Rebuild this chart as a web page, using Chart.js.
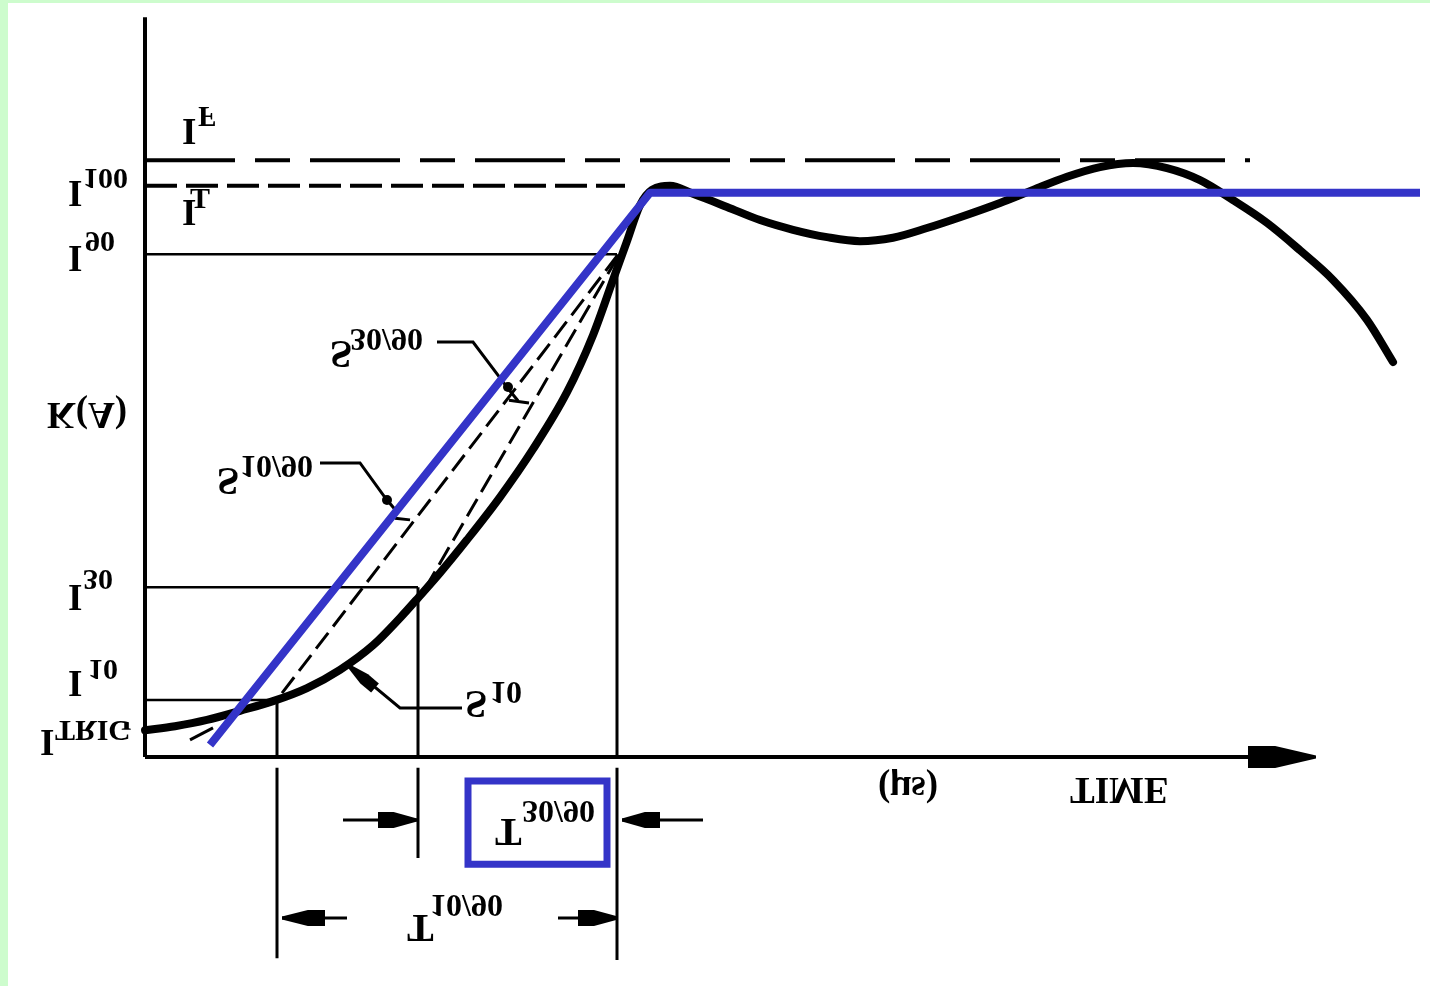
<!DOCTYPE html>
<html>
<head>
<meta charset="utf-8">
<script src="https://cdn.jsdelivr.net/npm/chart.js@4.4.1/dist/chart.umd.min.js"></script>
<style>
  html, body { margin:0; padding:0; background:#cdfccd; overflow:hidden; }
  #frame { position:absolute; left:8px; top:3px; width:1422px; height:983px; background:#fff; }
  #graph { position:absolute; left:0; top:0; }
</style>
</head>
<body>
<div id="frame"></div>
<canvas id="graph" width="1430" height="986"></canvas>
<script>
// courbe du courant : temps (unites du dessin) / courant (% de I100)
var curveT = [0, 3.0, 6.2, 9.5, 12.8, 16.2, 19.5, 22.8, 25.5, 27.4, 29.5, 32.2, 35.5, 38.8,
  42.2, 44.8, 46.8, 48.2, 49.5, 50.7, 52.5, 54.8, 58.2, 61.5, 64.8, 68.2, 71.5, 74.8, 78.2,
  81.5, 85.5, 88.8, 92.2, 95.5, 98.8, 102.2, 105.5, 108.8, 112.2, 115.5, 118.8, 122.2, 124.8];
var curveI = [4.7, 5.4, 6.5, 8.1, 9.8, 12.1, 15.3, 19.6, 24.4, 28.1, 32.3, 38.1, 45.6, 54.0,
  64.0, 74.0, 83.7, 90.5, 96.8, 99.5, 100.2, 98.8, 96.5, 94.2, 92.5, 91.2, 90.5, 91.1, 92.8,
  94.7, 97.2, 99.5, 101.8, 103.5, 104.2, 103.3, 101.2, 97.7, 93.7, 88.9, 83.7, 76.7, 69.3];

// droite bleue (rampe + palier)
var rampT = [6.5, 50.5, 127.5];
var rampI = [2.1, 99.0, 99.0];

// niveaux horizontaux IF, I100, I90, I30, I10
var levelI = [104.7, 100.2, 88.2, 29.8, 10.0];
var levelEnd = [110.5, 48.0, 47.2, 27.3, 13.2];

// reperes verticaux (T90, T30, T10)
var markT = [47.2, 27.3, 13.2];
var markTop = [88.2, 29.8, 10.0];
var markBottom = [-35.6, -17.7, -35.3];

// pentes en pointilles
var s1090T = [13.7, 47.2], s1090I = [11.2, 87.9];
var s3090T = [28.0, 47.2], s3090I = [29.5, 87.5];
var tailT = [4.5, 6.8], tailI = [3.0, 5.1];

// fleches de cotes T30/90 et T10/90
var arrowTail = [19.8, 55.8, 20.2, 41.3];
var arrowTip = [27.2, 47.7, 13.7, 47.3];
var arrowRow = [-11.05, -11.05, -28.25, -28.25];

// pointes de fleches (axe, cotes, S10)
var headTipT = [117.1, 27.2, 47.7, 13.7, 47.3, 20.3];
var headTipI = [0, -11.05, -11.05, -28.25, -28.25, 16.1];
var headBaseT = [110.3, 23.3, 51.5, 18.0, 43.3, 23.0];
var headBaseI = [0, -11.05, -11.05, -28.25, -28.25, 12.1];

// lignes de rappel des etiquettes
var lead3090T = [29.2, 32.8, 36.5, 37.3], lead3090I = [72.8, 72.8, 64.2, 62.5];
var bar3090T = [36.4, 38.4], bar3090I = [62.6, 62.1];
var lead1090T = [17.5, 21.5, 24.1, 25.3], lead1090I = [51.6, 51.6, 45.3, 42.8];
var bar1090T = [25.0, 26.5], bar1090I = [41.9, 41.6];
var lead10T = [31.7, 25.5, 20.7], lead10I = [8.6, 8.6, 15.6];
var dotT = [36.3, 24.2], dotI = [64.9, 45.1];

// cadre bleu autour de T30/90
var boxT = [32.3, 46.2, 46.2, 32.3, 32.3];
var boxI = [-4.2, -4.2, -18.8, -18.8, -4.2];

// textes : [texte, t, i, police, retourne]
var labels = [
  ['I', 3.7, 109.7, 'b', true], ['F', 5.3, 112.3, 's', true],
  ['I', 3.7, 95.5, 'b', true], ['T', 4.5, 97.9, 's', false],
  ['I', -7.7, 98.8, 'b', true], ['100', -6.2, 101.5, 's', true],
  ['I', -7.7, 87.4, 'b', true], ['90', -6.0, 90.4, 's', true],
  ['I', -7.7, 28.0, 'b', true], ['30', -6.2, 31.1, 's', true],
  ['I', -7.7, 12.9, 'b', true], ['10', -5.7, 15.3, 's', true],
  ['I', -10.5, 2.6, 'b', true], ['TRIG', -9.0, 4.6, 's', true],
  ['K(A)', -9.8, 60.5, 'b', true],
  ['S', 18.5, 70.7, 'L', true], ['30/90', 20.5, 73.3, 'S', true],
  ['S', 7.2, 48.4, 'L', true], ['10/90', 9.5, 50.9, 'S', true],
  ['S', 32.0, 9.3, 'L', true], ['10', 34.5, 11.4, 'S', true],
  ['T', 35.0, -13.2, 'L', true], ['30/90', 37.7, -9.6, 'S', true],
  ['T', 26.2, -30.0, 'L', true], ['10/90', 28.5, -26.0, 'S', true],
  ['(\u03bcs)', 73.3, -5.1, 'b', true],
  ['TIME', 92.5, -5.8, 'b', true]
];

var fonts = {
  b: 'bold 37px "Liberation Serif"',
  s: 'bold 30px "Liberation Serif"',
  L: 'bold 40px "Liberation Serif"',
  S: 'bold 32px "Liberation Serif"'
};

var blue = '#3434c8';

function pts(ts, is) {
  return ts.map(function (t, k) { return { x: t, y: is[k] }; });
}
function line(data, opts) {
  return Object.assign({
    data: data, showLine: true, pointRadius: 0, borderColor: '#000',
    borderWidth: 3, tension: 0, fill: false
  }, opts || {});
}

var datasets = [];
datasets.push(line(pts(rampT, rampI), { borderColor: blue, borderWidth: 8, borderJoinStyle: 'round' }));
datasets.push(line(pts(boxT, boxI), { borderColor: blue, borderWidth: 7, borderJoinStyle: 'miter', borderCapStyle: 'square' }));
datasets.push(line(pts(curveT, curveI), { borderWidth: 8, cubicInterpolationMode: 'monotone', borderCapStyle: 'round' }));
datasets.push(line(pts(s1090T, s1090I), { borderDash: [20, 8] }));
datasets.push(line(pts(s3090T, s3090I), { borderDash: [20, 8] }));
datasets.push(line(pts(tailT, tailI), { borderWidth: 3 }));

// axes du dessin
datasets.push(line(pts([0, 0], [0, 129.8]), { borderWidth: 4 }));
datasets.push(line(pts([0, 110.5], [0, 0]), { borderWidth: 4 }));

levelI.forEach(function (v, k) {
  var o = { borderWidth: 2.5 };
  if (k === 0) o = { borderWidth: 4, borderDash: [90, 20, 35, 20] };
  if (k === 1) o = { borderWidth: 4, borderDash: [32, 9] };
  datasets.push(line(pts([0, levelEnd[k]], [v, v]), o));
});

markT.forEach(function (t, k) {
  datasets.push(line([{ x: t, y: markTop[k] }, { x: t, y: 0 }, { x: t, y: null },
    { x: t, y: -1.9 }, { x: t, y: markBottom[k] }], { borderWidth: 3 }));
});

arrowTail.forEach(function (t, k) {
  datasets.push(line(pts([t, arrowTip[k]], [arrowRow[k], arrowRow[k]]), { borderWidth: 3 }));
});

datasets.push(line(pts(lead3090T, lead3090I), { borderWidth: 3 }));
datasets.push(line(pts(bar3090T, bar3090I), { borderWidth: 3 }));
datasets.push(line(pts(lead1090T, lead1090I), { borderWidth: 3 }));
datasets.push(line(pts(bar1090T, bar1090I), { borderWidth: 3 }));
datasets.push(line(pts(lead10T, lead10I), { borderWidth: 3 }));
datasets.push({ data: pts(dotT, dotI), showLine: false, pointRadius: 5, pointBackgroundColor: '#000', pointBorderWidth: 0 });

var headW = [11, 8, 8, 8, 8, 6];

var drawingPlugin = {
  id: 'drawing',
  afterDatasetsDraw: function (chart) {
    var ctx = chart.ctx, xs = chart.scales.x, ys = chart.scales.y;
    ctx.save();
    ctx.fillStyle = '#000';
    headTipT.forEach(function (t, i) {
      var tx = xs.getPixelForValue(t), ty = ys.getPixelForValue(headTipI[i]);
      var bx = xs.getPixelForValue(headBaseT[i]), by = ys.getPixelForValue(headBaseI[i]);
      var dx = tx - bx, dy = ty - by, len = Math.hypot(dx, dy);
      var ux = dx / len, uy = dy / len, nx = -uy, ny = ux, w = headW[i];
      var mx = bx + ux * len * 0.4, my = by + uy * len * 0.4;
      ctx.beginPath();
      ctx.moveTo(bx + nx * w, by + ny * w);
      ctx.lineTo(mx + nx * w, my + ny * w);
      ctx.lineTo(tx + nx * 1.5, ty + ny * 1.5);
      ctx.lineTo(tx - nx * 1.5, ty - ny * 1.5);
      ctx.lineTo(mx - nx * w, my - ny * w);
      ctx.lineTo(bx - nx * w, by - ny * w);
      ctx.closePath();
      ctx.fill();
    });
    ctx.restore();

    labels.forEach(function (l) {
      var px = xs.getPixelForValue(l[1]), py = ys.getPixelForValue(l[2]);
      ctx.save();
      ctx.font = fonts[l[3]];
      ctx.fillStyle = '#000';
      ctx.textAlign = 'left';
      ctx.textBaseline = 'alphabetic';
      var m = ctx.measureText(l[0]);
      var c = (m.actualBoundingBoxDescent - m.actualBoundingBoxAscent) / 2;
      ctx.translate(px, py);
      if (l[4]) ctx.scale(1, -1);
      ctx.fillText(l[0], 0, -c);
      ctx.restore();
    });
  }
};

new Chart('graph', {
  type: 'scatter',
  data: { datasets: datasets },
  options: {
    responsive: false,
    animation: false,
    layout: { padding: 0, autoPadding: false },
    plugins: { legend: { display: false }, tooltip: { enabled: false } },
    scales: {
      x: { type: 'linear', min: -14.5, max: 128.5, display: false },
      y: { type: 'linear', min: -40.175, max: 132.807, display: false }
    }
  },
  plugins: [drawingPlugin]
});
</script>
</body>
</html>
